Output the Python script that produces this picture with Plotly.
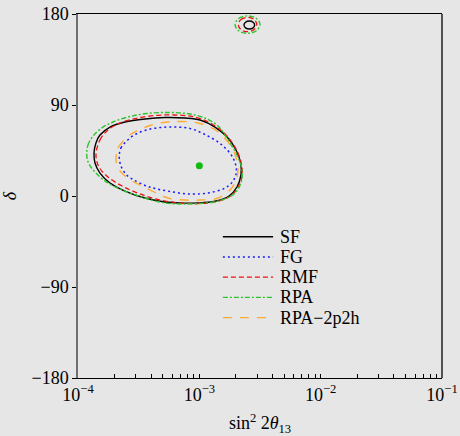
import plotly.graph_objects as go

# log10(sin^2 2theta13) and delta (deg) along each 90% contour
sf_log = [-3.868, -3.852, -3.819, -3.736, -3.613, -3.448, -3.283, -3.118, -2.994, -2.871,
          -2.764, -2.698, -2.661, -2.657, -2.690, -2.755, -2.871, -3.011, -3.159, -3.283,
          -3.448, -3.613, -3.736, -3.819, -3.860]
sf_delta = [42.5, 52.4, 60.3, 68.2, 73.2, 76.2, 77.6, 77.1, 75.2, 68.2,
            57.4, 45.5, 33.6, 20.8, 8.9, 0.0, -5.2, -6.9, -6.9, -5.9,
            -2.0, 4.9, 12.9, 22.7, 32.6]

fg_log = [-3.660, -3.646, -3.599, -3.530, -3.434, -3.324, -3.201, -3.077, -2.953, -2.816,
          -2.722, -2.694, -2.722, -2.788, -2.929, -3.093, -3.242, -3.365, -3.434, -3.530,
          -3.599, -3.646]
fg_delta = [39.6, 47.5, 54.4, 60.8, 65.3, 67.7, 68.2, 66.8, 60.8, 50.7,
            37.6, 24.7, 14.8, 7.9, 3.0, 2.0, 4.5, 7.4, 9.9, 15.3,
            20.8, 29.7]

rmf_log = [-3.852, -3.819, -3.753, -3.654, -3.530, -3.365, -3.201, -3.036, -2.896, -2.780,
           -2.698, -2.657, -2.648, -2.690, -2.755, -2.871, -3.011, -3.159, -3.324, -3.489,
           -3.637, -3.753, -3.827]
rmf_delta = [40.5, 55.4, 65.3, 72.2, 76.6, 79.6, 80.1, 78.1, 71.2, 60.3,
             46.5, 33.6, 19.8, 6.9, -1.0, -5.9, -7.4, -6.9, -4.0, 2.0,
             9.9, 18.8, 28.7]

rpa_log = [-3.928, -3.918, -3.876, -3.810, -3.712, -3.588, -3.434, -3.242, -3.077, -2.953,
           -2.846, -2.764, -2.690, -2.648, -2.657, -2.714, -2.830, -2.994, -3.159, -3.283,
           -3.448, -3.613, -3.753, -3.860, -3.913]
rpa_delta = [40.5, 50.4, 59.3, 66.8, 73.2, 78.1, 81.6, 82.6, 81.1, 77.1,
             69.2, 55.4, 40.5, 25.7, 12.9, 2.0, -4.5, -7.4, -7.9, -6.9,
             -2.0, 4.9, 12.9, 23.7, 32.6]

r2p_log = [-3.687, -3.670, -3.627, -3.563, -3.489, -3.407, -3.324, -3.201, -3.011, -2.871,
           -2.747, -2.692, -2.685, -2.733, -2.846, -2.994, -3.118, -3.258, -3.382, -3.489,
           -3.571, -3.646, -3.679]
r2p_delta = [37.6, 47.5, 54.4, 61.3, 65.8, 69.7, 72.2, 73.7, 72.2, 65.6,
             50.7, 35.6, 20.8, 7.9, -2.0, -4.0, -4.0, -2.0, 4.6, 10.9,
             16.1, 23.7, 30.7]

# small islands near delta = 180
sf_isl_log = [-2.632, -2.619, -2.588, -2.557, -2.544, -2.557, -2.588, -2.619]
sf_isl_delta = [169.1, 171.9, 173.1, 171.9, 169.1, 166.3, 165.1, 166.3]
rmf_isl_log = [-2.679, -2.657, -2.603, -2.549, -2.527, -2.549, -2.603, -2.657]
rmf_isl_delta = [169.6, 174.6, 176.7, 174.6, 169.6, 164.6, 162.5, 164.6]
rpa_isl_log = [-2.706, -2.676, -2.603, -2.530, -2.500, -2.530, -2.603, -2.676]
rpa_isl_delta = [169.5, 175.6, 178.1, 175.6, 169.5, 163.4, 160.9, 163.4]

# best fit point
best_x = [1.0e-3]
best_delta = [30]

x_ticks = [1e-4, 1e-3, 1e-2, 1e-1]
x_ticktext = ["10<sup>\u22124</sup>", "10<sup>\u22123</sup>", "10<sup>\u22122</sup>", "10<sup>\u22121</sup>"]
y_ticks = [-180, -90, 0, 90, 180]

FONT = "Liberation Serif"


def closed(v):
    return list(v) + list(v[:1])


series = [
    ("SF", sf_log, sf_delta, sf_isl_log, sf_isl_delta, "#000000", "solid", 1.4),
    ("FG", fg_log, fg_delta, None, None, "#1a1aff", "2px,3px", 1.5),
    ("RMF", rmf_log, rmf_delta, rmf_isl_log, rmf_isl_delta, "#ee1111", "5px,3px", 1.3),
    ("RPA", rpa_log, rpa_delta, rpa_isl_log, rpa_isl_delta, "#2ec42e", "5px,2px,2px,2px", 1.4),
    ("RPA\u22122p2h", r2p_log, r2p_delta, None, None, "#ffaa33", "9px,8px", 1.4),
]

fig = go.Figure()
for name, lg, dl, ilg, idl, col, dash, w in series:
    fig.add_trace(go.Scatter(
        x=[10 ** v for v in closed(lg)], y=closed(dl), mode="lines", name=name,
        legendgroup=name, showlegend=False,
        line=dict(color=col, dash=dash, width=w, shape="spline", smoothing=1.0)))
    if ilg is not None:
        fig.add_trace(go.Scatter(
            x=[10 ** v for v in closed(ilg)], y=closed(idl), mode="lines", name=name,
            legendgroup=name, showlegend=False,
            line=dict(color=col, dash=dash, width=w, shape="spline", smoothing=1.0)))

fig.add_trace(go.Scatter(x=best_x, y=best_delta, mode="markers", showlegend=False,
                         marker=dict(color="#11bb11", size=7)))

# legend drawn as layout decoration (compact spacing as in the reference)
shapes = [dict(type="line", xref="paper", yref="paper", x0=1, x1=1, y0=0, y1=1,
               line=dict(color="black", width=1.3))]
annotations = []
leg_x0, leg_x1, leg_tx = 0.398, 0.536, 0.549
leg_y0, leg_dy = 0.388, 0.0555
for i, (name, _, _, _, _, col, dash, w) in enumerate(series):
    yy = leg_y0 - i * leg_dy
    shapes.append(dict(type="line", xref="paper", yref="paper", x0=leg_x0, x1=leg_x1,
                       y0=yy, y1=yy, line=dict(color=col, dash=dash, width=w)))
    annotations.append(dict(xref="paper", yref="paper", x=leg_tx, y=yy, text=name,
                            showarrow=False, xanchor="left", yanchor="middle",
                            font=dict(family=FONT, size=18, color="black")))

fig.update_layout(
    width=460, height=436,
    margin=dict(l=78, r=18, t=14, b=58),
    paper_bgcolor="#e6e6e6", plot_bgcolor="#e6e6e6",
    font=dict(family=FONT, size=18, color="black"),
    showlegend=False,
    xaxis=dict(type="log", range=[-4, -1], tickvals=x_ticks, ticktext=x_ticktext,
               automargin=False,
               showgrid=False, zeroline=False,
               showline=True, linecolor="black", linewidth=1.3, mirror=True,
               ticks="inside", ticklen=4, tickcolor="black",
               minor=dict(ticks="inside", ticklen=4, tickcolor="black", dtick="D1", showgrid=False),
               tickfont=dict(family=FONT, size=18),
               title=dict(text="sin<sup>2</sup> 2<i>θ</i><sub>13</sub>", font=dict(family=FONT, size=18),
                          standoff=15)),
    yaxis=dict(range=[-180, 180], tickvals=y_ticks, showgrid=False, zeroline=False,
               automargin=False,
               showline=True, linecolor="#707070", linewidth=1.5, mirror=False,
               ticks="outside", ticklen=4, tickcolor="black",
               tickfont=dict(family=FONT, size=18),
               title=dict(text="<i>δ</i>", font=dict(family=FONT, size=18), standoff=22)),
    shapes=shapes,
    annotations=annotations,
)

fig.write_html("out.html")
